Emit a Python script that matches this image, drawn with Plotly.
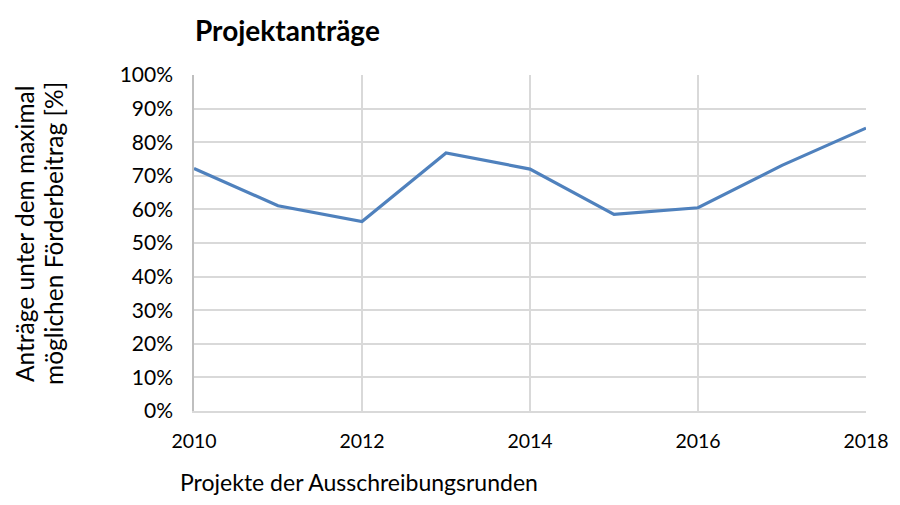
import plotly.graph_objects as go

years = [2010, 2011, 2012, 2013, 2014, 2015, 2016, 2017, 2018]
values = [0.722, 0.611, 0.564, 0.768, 0.720, 0.585, 0.605, 0.731, 0.842]
y_ticks = [i / 10 for i in range(11)]
x_ticks = [2010, 2012, 2014, 2016, 2018]
y_title_lines = ["Anträge unter dem maximal", "möglichen Förderbeitrag [%]"]

FONT = "Lato"
GRID = "#d9d9d9"

# page has an 8px body margin; figure is sized/placed to compensate
W, H = 892, 489
L, R, T, B = 186, 34, 67, 86
PW, PH = W - L - R, H - T - B

fig = go.Figure()
fig.add_trace(go.Scatter(x=years, y=values, mode="lines",
                         line=dict(color="#4f81bd", width=3.2), showlegend=False))

fig.update_layout(
    width=W, height=H,
    margin=dict(l=L, r=R, t=T, b=B, autoexpand=False),
    paper_bgcolor="white", plot_bgcolor="white",
    font=dict(family=FONT, size=21, color="#000000"),
    title=dict(text="<b>Projektanträge</b>", x=(195 - 8) / W, xanchor="left",
               y=1 - (31 - 8) / H, yanchor="middle",
               font=dict(family=FONT, size=28, color="#000000")),
)
fig.update_xaxes(range=[2010, 2018], tickvals=x_ticks, ticktext=[str(t) for t in x_ticks],
                 showgrid=True, gridcolor=GRID, gridwidth=1.5,
                 showline=True, linecolor=GRID, linewidth=1.5, mirror=False,
                 zeroline=False, ticks="", ticklabelstandoff=12, automargin=False,
                 tickfont=dict(family=FONT, size=19.5))
fig.update_yaxes(range=[0, 1], tickvals=y_ticks, tickformat=".0%",
                 showgrid=True, gridcolor=GRID, gridwidth=1.5,
                 showline=True, linecolor="#bfbfbf", linewidth=1.5,
                 zeroline=False, ticks="", ticklabelstandoff=15, automargin=False,
                 tickfont=dict(family=FONT, size=21))

for line_text, cx in zip(y_title_lines, [24, 53]):
    fig.add_annotation(text=line_text,
                       xref="paper", yref="paper", x=(cx - 194) / PW, y=(411 - 234) / PH,
                       xanchor="center", yanchor="middle", textangle=-90, showarrow=False,
                       font=dict(family=FONT, size=24.5))
fig.add_annotation(text="Projekte der Ausschreibungsrunden",
                   xref="paper", yref="paper", x=(359 - 194) / PW, y=-(482 - 411) / PH,
                   xanchor="center", yanchor="middle", showarrow=False,
                   font=dict(family=FONT, size=23))

fig.write_html("out.html")
